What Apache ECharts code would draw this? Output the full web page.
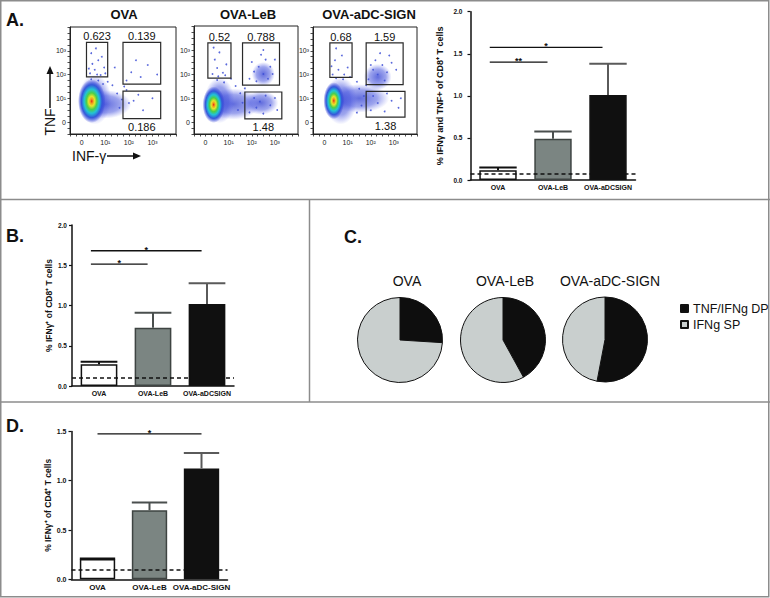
<!DOCTYPE html>
<html><head><meta charset="utf-8">
<script src="https://cdn.jsdelivr.net/npm/echarts@6/dist/echarts.min.js"></script>
<style>html,body{margin:0;padding:0;background:#fff}#c{width:770px;height:598px}</style>
</head><body><div id="c"></div>
<script>
// ================= DATA =================
// Panel A flow plots
const flowTitles = ['OVA', 'OVA-LeB', 'OVA-aDC-SIGN'];
const flowTickValues = [0, 1, 2, 3];
const flowTickLabels = ['0', '10¹', '10²', '10³'];
// gates: [xMin, xMax, yMin, yMax] in axis units (decades)
const gatesOVA  = [[0.2, 1.1, 1.9, 3.35], [1.75, 3.35, 1.6, 3.35], [1.75, 3.35, 0.15, 1.3]];
const gatesLeB  = [[0.1, 1.1, 1.83, 3.3], [1.6, 3.2, 1.54, 3.3], [1.7, 3.3, 0.13, 1.25]];
const gatesDCS  = [[0.23, 1.19, 1.88, 3.33], [1.8, 3.4, 1.58, 3.33], [1.8, 3.48, 0.21, 1.29]];
const gateLabelsOVA = ['0.623', '0.139', '0.186'];
const gateLabelsLeB = ['0.52', '0.788', '1.48'];
const gateLabelsDCS = ['0.68', '1.59', '1.38'];
const gateLabelSide = ['top', 'top', 'bottom'];
// density clouds: [cx, cy, rx, ry, level]  level 0 = sparse halo, 1 = dense core
const blobsOVA = [[1.0, 0.75, 1.1, 0.6, 0], [0.55, 0.95, 0.7, 1.05, 0], [0.42, 0.88, 0.58, 0.92, 1]];
const blobsLeB = [[1.2, 0.75, 1.15, 0.65, 0], [2.4, 0.8, 0.75, 0.5, 0], [2.5, 2.0, 0.5, 0.5, 0], [0.6, 0.9, 0.65, 0.95, 0], [0.35, 0.72, 0.48, 0.76, 1]];
const blobsDCS = [[1.5, 1.0, 1.3, 0.6, 0], [2.3, 1.9, 0.6, 0.55, 0], [0.7, 0.9, 0.7, 1.0, 0], [0.4, 0.9, 0.45, 0.78, 1]];
// scattered events
const dotsOVA = [[0.35,2.05],[0.55,2.2],[0.8,1.98],[0.45,2.45],[0.7,2.6],[0.95,2.3],[0.4,2.9],[0.6,3.1],[0.85,2.75],[0.3,2.25],[1.0,2.05],[0.65,2.0],
  [0.4,1.8],[0.7,1.75],[0.9,1.6],[1.1,1.7],[1.3,1.55],[1.5,1.2],[1.7,0.95],[1.9,1.35],[1.6,0.6],[2.0,0.8],[1.8,1.5],
  [2.1,2.1],[2.5,1.9],[2.8,2.4],[2.3,2.6],[1.9,1.75],[2.2,0.9],[2.6,0.5],[3.0,1.0],[2.4,1.15],[3.2,2.0],[1.4,2.3]];
const dotsLeB = [[0.3,2.0],[0.5,2.25],[0.75,2.05],[0.4,2.6],[0.9,2.4],[0.6,2.9],[0.35,3.1],[0.85,1.95],[0.55,1.9],
  [0.5,1.75],[0.8,1.65],[1.1,1.8],[1.3,1.5],[1.9,1.8],[2.1,2.1],[2.3,2.3],[2.5,2.0],[2.6,2.6],[2.8,2.3],[2.4,2.8],[2.9,2.0],
  [2.2,1.7],[2.0,2.5],[2.7,1.8],[3.0,2.6],[2.5,3.0],[1.9,0.4],[2.2,0.6],[2.5,0.35],[2.8,0.7],[3.1,0.5],[2.1,1.0],[2.6,1.1],
  [3.0,1.0],[2.35,0.85],[1.5,1.2],[1.7,1.4],[1.6,0.8],[1.4,0.5]];
const dotsDCS = [[0.35,2.0],[0.6,2.2],[0.85,2.0],[0.45,2.6],[0.75,2.8],[1.0,2.3],[0.5,3.1],[0.3,2.35],
  [0.5,1.85],[0.8,1.8],[1.1,1.9],[1.4,1.7],[1.9,1.8],[2.1,2.2],[2.3,2.0],[2.5,2.4],[2.2,2.6],[2.7,2.1],[2.9,2.5],[2.4,2.9],
  [2.0,2.4],[2.6,1.75],[3.1,2.2],[2.8,2.8],[2.0,0.5],[2.3,0.8],[2.6,0.45],[2.9,0.9],[3.2,0.6],[2.1,1.1],[2.7,1.2],[3.3,1.0],
  [1.5,1.4],[1.7,1.1],[1.6,0.7],[1.8,1.55],[1.4,0.4]];

// Panel A bar chart
const catA = ['OVA', 'OVA-LeB', 'OVA-aDCSIGN'];
const meanA = [0.115, 0.49, 1.01];
const upperA = [0.15, 0.575, 1.38];
const thresholdA = 0.07;
const sigA = [[0, 2, 1.575], [0, 1, 1.40]];
const sigTextA = ['*', '**'];
const yTitleA = '% IFNγ and TNF+ of CD8⁺ T cells';

// Panel B
const catB = ['OVA', 'OVA-LeB', 'OVA-aDCSIGN'];
const meanB = [0.27, 0.725, 1.02];
const upperB = [0.30, 0.91, 1.275];
const thresholdB = 0.1;
const sigB = [[0, 2, 1.68], [0, 1, 1.515]];
const sigTextB = ['*', '*'];
const yTitleB = '% IFNγ⁺ of CD8⁺ T cells';

// Panel C pies
const pieGroups = ['OVA', 'OVA-LeB', 'OVA-aDC-SIGN'];
const pieNames = ['TNF/IFNg DP', 'IFNg SP'];
const pieDP = [26, 42, 53];
const pieSP = [74, 58, 47];

// Panel D
const catD = ['OVA', 'OVA-LeB', 'OVA-aDC-SIGN'];
const meanD = [0.205, 0.70, 1.125];
const upperD = [0.21, 0.78, 1.28];
const thresholdD = 0.1;
const sigD = [[0, 2, 1.475]];
const sigTextD = ['*'];
const yTitleD = '% IFNγ⁺ of CD4⁺ T cells';

// ================= STYLE =================
const FONT = 'Liberation Sans, Arial, Helvetica, sans-serif';
const barFill = ['#ffffff', '#7b8582', '#101010'];
const barBorder = ['#111111', '#3e4442', '#111111'];
const errColor = ['#111111', '#4a4f4e', '#5a5a5a'];
const pieColors = ['#0e0e0e', '#c9cfce'];
const frameColor = '#8c8c8c';

const flowGrids = [
  {left: 70, top: 27, width: 106, height: 107},
  {left: 194, top: 26, width: 104, height: 108},
  {left: 313, top: 27, width: 104, height: 107}
];
const barGrids = [
  {left: 470.5, top: 11.7, width: 165, height: 168.3},
  {left: 72, top: 225, width: 162, height: 161},
  {left: 71.5, top: 431.4, width: 156, height: 147.9}
];

function flowAxis(i, isY) {
  return {
    gridIndex: i, type: 'value', min: -0.5, max: 4, interval: 0.25,
    axisLine: {show: true, onZero: false, lineStyle: {color: '#222', width: 1}},
    axisTick: {show: true, length: 2.5, lineStyle: {color: '#222', width: 0.8}},
    axisLabel: {
      customValues: flowTickValues,
      formatter: v => { const k = flowTickValues.indexOf(v); return k >= 0 ? flowTickLabels[k] : ''; },
      fontSize: 7, color: '#222', fontFamily: FONT, margin: isY ? 4 : 5
    },
    splitLine: {show: false}
  };
}

function coreGrad() {
  return {type: 'radial', x: 0.5, y: 0.5, r: 0.5, colorStops: [
    {offset: 0, color: '#e3261a'}, {offset: 0.1, color: '#f09a1c'}, {offset: 0.22, color: '#e6e52c'},
    {offset: 0.38, color: '#4ccf48'}, {offset: 0.55, color: '#22c3d6'}, {offset: 0.75, color: '#3558da'},
    {offset: 1, color: 'rgba(50,60,215,0)'}]};
}
function haloGrad() {
  return {type: 'radial', x: 0.5, y: 0.5, r: 0.5, colorStops: [
    {offset: 0, color: 'rgba(45,60,210,0.75)'}, {offset: 0.6, color: 'rgba(60,75,220,0.5)'},
    {offset: 1, color: 'rgba(90,100,235,0)'}]};
}
function blobRender(list) {
  return function (params, api) {
    const b = list[params.dataIndex];
    const c = api.coord([b[0], b[1]]);
    const s = api.size([b[2], b[3]]);
    return {type: 'circle', x: c[0], y: c[1], scaleX: s[0] / s[1], shape: {cx: 0, cy: 0, r: s[1]},
      style: {fill: b[4] === 1 ? coreGrad() : haloGrad()}, silent: true};
  };
}
function gateRender(list, labels) {
  return function (params, api) {
    const i = params.dataIndex, g = list[i];
    const p0 = api.coord([g[0], g[3]]), p1 = api.coord([g[1], g[2]]);
    const top = gateLabelSide[i] === 'top';
    return {type: 'group', children: [
      {type: 'rect', shape: {x: p0[0], y: p0[1], width: p1[0] - p0[0], height: p1[1] - p0[1]},
        style: {fill: 'none', stroke: '#2a2a2a', lineWidth: 1.2}},
      {type: 'text', style: {text: labels[i], x: (p0[0] + p1[0]) / 2, y: top ? p0[1] - 0.5 : p1[1] + 3,
        textAlign: 'center', textVerticalAlign: top ? 'bottom' : 'top', font: '11px ' + FONT, fill: '#111'}}
    ]};
  };
}
function errRender(means, uppers) {
  return function (params, api) {
    const i = params.dataIndex;
    const pm = api.coord([i, means[i]]), pu = api.coord([i, uppers[i]]);
    const half = api.size([1, 0])[0] * 0.68 / 2;
    return {type: 'group', children: [
      {type: 'line', shape: {x1: pm[0], y1: pm[1], x2: pu[0], y2: pu[1]}, style: {stroke: errColor[i], lineWidth: 2}},
      {type: 'line', shape: {x1: pu[0] - half, y1: pu[1], x2: pu[0] + half, y2: pu[1]}, style: {stroke: errColor[i], lineWidth: 2}}
    ]};
  };
}
function sigRender(list, texts, offs) {
  return function (params, api) {
    const s = list[params.dataIndex];
    const a = api.coord([s[0], s[2]]), b = api.coord([s[1], s[2]]);
    const band = api.size([1, 0])[0];
    const x0 = a[0] + offs[0] * band, x1 = b[0] + offs[1] * band;
    return {type: 'group', children: [
      {type: 'line', shape: {x1: x0, y1: a[1], x2: x1, y2: a[1]}, style: {stroke: '#111', lineWidth: 1.3}},
      {type: 'text', style: {text: texts[params.dataIndex], x: (x0 + x1) / 2, y: a[1] - 1,
        textAlign: 'center', textVerticalAlign: 'middle', font: 'bold 9px ' + FONT, fill: '#111'}}
    ]};
  };
}

const flowSets = [
  {gates: gatesOVA, labels: gateLabelsOVA, blobs: blobsOVA, dots: dotsOVA},
  {gates: gatesLeB, labels: gateLabelsLeB, blobs: blobsLeB, dots: dotsLeB},
  {gates: gatesDCS, labels: gateLabelsDCS, blobs: blobsDCS, dots: dotsDCS}
];
const barSets = [
  {cat: catA, mean: meanA, upper: upperA, thr: thresholdA, sig: sigA, sigText: sigTextA, title: yTitleA, max: 2,
    labelSize: 7, tickSize: 6.5, titleSize: 9, nameGap: 26, labelMargin: 8, xMargin: 4, sigOff: [-0.15, -0.1]},
  {cat: catB, mean: meanB, upper: upperB, thr: thresholdB, sig: sigB, sigText: sigTextB, title: yTitleB, max: 2,
    labelSize: 7, tickSize: 6.5, titleSize: 8.5, nameGap: 18.5, labelMargin: 5, xMargin: 3.5, sigOff: [-0.15, -0.1]},
  {cat: catD, mean: meanD, upper: upperD, thr: thresholdD, sig: sigD, sigText: sigTextD, title: yTitleD, max: 1.5,
    labelSize: 8, tickSize: 7, titleSize: 8.5, nameGap: 17.5, labelMargin: 5, xMargin: 4, sigOff: [0, 0]}
];

const grid = [], xAxis = [], yAxis = [], series = [];
flowSets.forEach((f, i) => {
  grid.push(Object.assign({show: true, borderColor: '#222', borderWidth: 1, backgroundColor: 'transparent'}, flowGrids[i]));
  xAxis.push(flowAxis(i, false));
  yAxis.push(flowAxis(i, true));
  series.push({type: 'custom', xAxisIndex: i, yAxisIndex: i, clip: true, z: 1, silent: true,
    data: f.blobs, renderItem: blobRender(f.blobs)});
  series.push({type: 'scatter', xAxisIndex: i, yAxisIndex: i, z: 2, silent: true, symbolSize: 1.8,
    itemStyle: {color: '#3d4fd6', opacity: 0.85}, data: f.dots});
  series.push({type: 'custom', xAxisIndex: i, yAxisIndex: i, z: 3, silent: true,
    data: f.gates, renderItem: gateRender(f.gates, f.labels)});
});
barSets.forEach((b, k) => {
  const gi = 3 + k;
  grid.push(Object.assign({show: false}, barGrids[k]));
  xAxis.push({gridIndex: gi, type: 'category', data: b.cat,
    axisLine: {show: true, lineStyle: {color: '#111', width: 1.5}}, axisTick: {show: false},
    axisLabel: {fontSize: b.labelSize, fontWeight: 'bold', color: '#111', fontFamily: FONT, margin: b.xMargin, interval: 0}});
  yAxis.push({gridIndex: gi, type: 'value', min: 0, max: b.max, interval: 0.5,
    name: b.title, nameLocation: 'middle', nameRotate: 90, nameGap: b.nameGap,
    nameTextStyle: {fontSize: b.titleSize, fontWeight: 'bold', color: '#111', fontFamily: FONT},
    axisLine: {show: true, lineStyle: {color: '#111', width: 1.5}},
    axisTick: {show: true, length: 3, lineStyle: {color: '#111', width: 1.2}},
    axisLabel: {formatter: v => v.toFixed(1), fontSize: b.tickSize, fontWeight: 'bold', color: '#111', fontFamily: FONT, margin: b.labelMargin},
    splitLine: {show: false}});
  series.push({type: 'bar', xAxisIndex: gi, yAxisIndex: gi, barWidth: '68%', silent: true, z: 2,
    data: b.mean.map((v, i) => ({value: v, itemStyle: {color: barFill[i], borderColor: barBorder[i], borderWidth: 1.5}})),
    markLine: {silent: true, symbol: 'none', label: {show: false}, z: 5,
      lineStyle: {type: [4, 3], color: '#111', width: 1.6}, data: [{yAxis: b.thr}]}});
  series.push({type: 'custom', xAxisIndex: gi, yAxisIndex: gi, z: 3, silent: true,
    data: b.mean.map((v, i) => [i, v, b.upper[i]]), renderItem: errRender(b.mean, b.upper)});
  series.push({type: 'custom', xAxisIndex: gi, yAxisIndex: gi, z: 3, silent: true, clip: false,
    data: b.sig, renderItem: sigRender(b.sig, b.sigText, b.sigOff)});
});
const pieCenters = [[400, 340], [503, 340], [605, 339.5]];
pieGroups.forEach((g, i) => {
  series.push({type: 'pie', name: g, center: pieCenters[i], radius: 42.5, startAngle: 90, clockwise: true,
    silent: true, label: {show: false}, labelLine: {show: false}, emphasis: {disabled: true},
    itemStyle: {borderColor: '#111', borderWidth: 1},
    data: [{name: pieNames[0], value: pieDP[i], itemStyle: {color: pieColors[0]}},
           {name: pieNames[1], value: pieSP[i], itemStyle: {color: pieColors[1]}}]});
});

function txt(text, x, y, font, align, vAlign, rot) {
  const o = {type: 'text', x: x, y: y, silent: true, z: 20,
    style: {text: text, font: font, fill: '#111', textAlign: align || 'left', textVerticalAlign: vAlign || 'middle'}};
  if (rot) o.rotation = rot;
  return o;
}
const graphic = [
  {type: 'rect', shape: {x: 0.75, y: 0.75, width: 768, height: 596}, style: {fill: 'none', stroke: frameColor, lineWidth: 1.5}, silent: true, z: 0},
  {type: 'line', shape: {x1: 0, y1: 199.5, x2: 770, y2: 199.5}, style: {stroke: frameColor, lineWidth: 1.5}, silent: true},
  {type: 'line', shape: {x1: 0, y1: 402, x2: 770, y2: 402}, style: {stroke: frameColor, lineWidth: 1.5}, silent: true},
  {type: 'line', shape: {x1: 309.5, y1: 199.5, x2: 309.5, y2: 402}, style: {stroke: frameColor, lineWidth: 1.5}, silent: true},
  txt('A.', 6, 20, 'bold 18px ' + FONT),
  txt('B.', 6, 236, 'bold 18px ' + FONT),
  txt('C.', 344, 237, 'bold 18px ' + FONT),
  txt('D.', 6, 426, 'bold 18px ' + FONT),
  txt(flowTitles[0], 124, 14, 'bold 13px ' + FONT, 'center'),
  txt(flowTitles[1], 248, 14, 'bold 13px ' + FONT, 'center'),
  txt(flowTitles[2], 369, 14, 'bold 13px ' + FONT, 'center'),
  txt('TNF', 50, 122, '14px ' + FONT, 'center', 'middle', Math.PI / 2),
  {type: 'line', shape: {x1: 50, y1: 108, x2: 50, y2: 71}, style: {stroke: '#111', lineWidth: 1.5}, silent: true},
  {type: 'polygon', shape: {points: [[50, 66], [46.5, 74], [53.5, 74]]}, style: {fill: '#111'}, silent: true},
  txt('INF-γ', 72, 156, '14px ' + FONT, 'left'),
  {type: 'line', shape: {x1: 107, y1: 156, x2: 136, y2: 156}, style: {stroke: '#111', lineWidth: 1.5}, silent: true},
  {type: 'polygon', shape: {points: [[141, 156], [133, 152.5], [133, 159.5]]}, style: {fill: '#111'}, silent: true},
  txt(pieGroups[0], 407, 281, '14px ' + FONT, 'center'),
  txt(pieGroups[1], 505, 281, '14px ' + FONT, 'center'),
  txt(pieGroups[2], 610, 281, '14px ' + FONT, 'center')
];

const chart = echarts.init(document.getElementById('c'), null, {renderer: 'svg', width: 770, height: 598});
chart.setOption({
  animation: false,
  backgroundColor: '#ffffff',
  textStyle: {fontFamily: FONT},
  grid: grid, xAxis: xAxis, yAxis: yAxis, series: series, graphic: graphic,
  legend: {data: pieNames, orient: 'vertical', left: 680, top: 302, padding: 0, itemWidth: 7, itemHeight: 7, itemGap: 3,
    icon: 'rect', selectedMode: false, textStyle: {fontSize: 12.5, color: '#111', fontFamily: FONT}}
});
</script>
</body></html>
